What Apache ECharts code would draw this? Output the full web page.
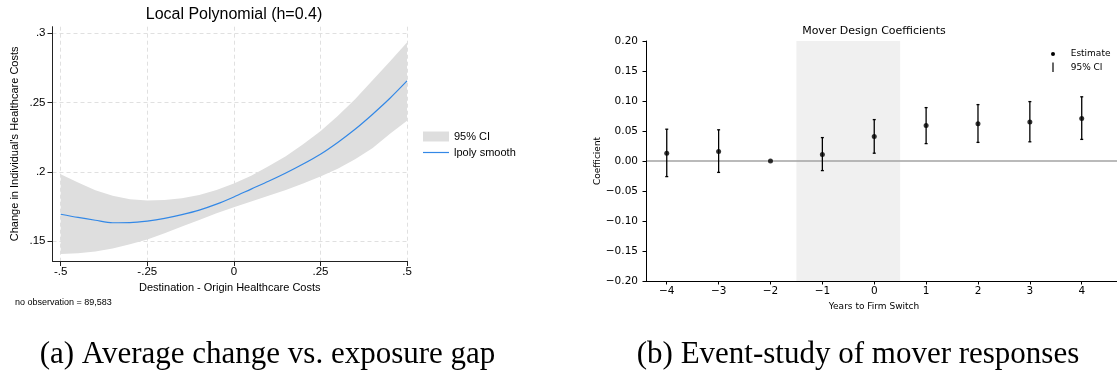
<!DOCTYPE html>
<html>
<head>
<meta charset="utf-8">
<script src="https://cdn.jsdelivr.net/npm/echarts@6/dist/echarts.min.js"></script>
<style>html,body{margin:0;padding:0;background:#fff}#c{width:1117px;height:373px}</style>
</head>
<body>
<div id="c"></div>
<script>
// ---------- Panel (a): local polynomial ----------
const xA = [-0.5,-0.45,-0.4,-0.35,-0.3,-0.25,-0.2,-0.15,-0.1,-0.05,0,0.05,0.1,0.15,0.2,0.25,0.3,0.35,0.4,0.45,0.5];
const lineA = [0.1693,0.1670,0.1650,0.1632,0.1633,0.1644,0.1663,0.1690,0.1723,0.1766,0.1818,0.1875,0.1931,0.1991,0.2056,0.2127,0.2212,0.2307,0.2414,0.2529,0.2656];
const upperA = [0.1982,0.1922,0.1866,0.1826,0.1802,0.1792,0.1797,0.1809,0.1833,0.1869,0.1915,0.1972,0.2040,0.2112,0.2198,0.2293,0.2402,0.2524,0.2660,0.2795,0.2933];
const lowerA = [0.1407,0.1412,0.1424,0.1445,0.1477,0.1510,0.1556,0.1604,0.1652,0.1700,0.1743,0.1785,0.1826,0.1869,0.1915,0.1965,0.2022,0.2090,0.2170,0.2272,0.2368];
const xTicksA = [-0.5,-0.25,0,0.25,0.5];
const xTickLabelsA = ['-.5','-.25','0','.25','.5'];
const yTicksA = [0.15,0.2,0.25,0.3];
const yTickLabelsA = ['.15','.2','.25','.3'];

// ---------- Panel (b): mover event study ----------
const yearsB = [-4,-3,-2,-1,0,1,2,3,4];
const estB = [0.013,0.016,0.0,0.011,0.041,0.059,0.062,0.065,0.071];
const ciLowB = [-0.026,-0.019,null,-0.016,0.013,0.029,0.031,0.032,0.036];
const ciHighB = [0.053,0.052,null,0.039,0.069,0.089,0.094,0.099,0.107];
const xTicksB = [-4,-3,-2,-1,0,1,2,3,4];
const xTickLabelsB = ['\u22124','\u22123','\u22122','\u22121','0','1','2','3','4'];
const yTicksB = [-0.2,-0.15,-0.1,-0.05,0,0.05,0.1,0.15,0.2];
const yTickLabelsB = ['\u22120.20','\u22120.15','\u22120.10','\u22120.05','0.00','0.05','0.10','0.15','0.20'];

function lookup(ticks, labels){
  return function(v){
    for (let i=0;i<ticks.length;i++){ if (Math.abs(ticks[i]-v)<1e-9) return labels[i]; }
    return '';
  };
}

const SANS = "'Liberation Sans', Arial, sans-serif";
const DJV = "'DejaVu Sans', sans-serif";
const SERIF = "'Liberation Serif', 'Times New Roman', serif";
const BLUE = '#3388e6';

const chart = echarts.init(document.getElementById('c'), null, {renderer:'canvas'});

const option = {
  animation: false,
  backgroundColor: '#fff',
  grid: [
    {left: 52.5, top: 26.7, width: 354.5, height: 234.3, containLabel: false},
    {left: 646, top: 41, right: 0, height: 240, containLabel: false}
  ],
  xAxis: [
    {
      gridIndex: 0, type: 'value', min: -0.5237, max: 0.5,
      axisLine: {show: true, onZero: false, lineStyle: {color: '#222', width: 1}},
      axisTick: {show: true, customValues: xTicksA, length: 5, lineStyle: {color: '#222', width: 1}},
      axisLabel: {customValues: xTicksA, formatter: lookup(xTicksA, xTickLabelsA), fontSize: 11.5, fontFamily: SANS, color: '#000', margin: 5},
      splitLine: {show: true, lineStyle: {color: '#e0e0e0', type: [4,3], width: 1}},
      name: 'Destination - Origin Healthcare Costs', nameLocation: 'middle', nameGap: 20,
      nameTextStyle: {fontSize: 11, fontFamily: SANS, color: '#000'}
    },
    {
      gridIndex: 1, type: 'value', min: -4.4, max: 4.68, z: 5,
      axisLine: {show: true, onZero: false, lineStyle: {color: '#000', width: 1}},
      axisTick: {show: true, customValues: xTicksB, length: 3.5, lineStyle: {color: '#000', width: 1}},
      axisLabel: {customValues: xTicksB, formatter: lookup(xTicksB, xTickLabelsB), fontSize: 10.5, fontFamily: DJV, color: '#000', margin: 5},
      splitLine: {show: false},
      name: 'Years to Firm Switch', nameLocation: 'middle', nameGap: 19,
      nameTextStyle: {fontSize: 9, fontFamily: DJV, color: '#000', padding: [0, 15, 0, 0]}
    }
  ],
  yAxis: [
    {
      gridIndex: 0, type: 'value', min: 0.13556, max: 0.30477,
      axisLine: {show: true, onZero: false, lineStyle: {color: '#222', width: 1}},
      axisTick: {show: true, customValues: yTicksA, length: 5, lineStyle: {color: '#222', width: 1}},
      axisLabel: {customValues: yTicksA, formatter: lookup(yTicksA, yTickLabelsA), fontSize: 11.5, fontFamily: SANS, color: '#000', margin: 7},
      splitLine: {show: true, lineStyle: {color: '#e0e0e0', type: [4,3], width: 1}},
      name: "Change in Individual's Healthcare Costs", nameLocation: 'middle', nameGap: 32,
      nameTextStyle: {fontSize: 11, fontFamily: SANS, color: '#000'}
    },
    {
      gridIndex: 1, type: 'value', min: -0.2, max: 0.2, interval: 0.05, z: 5,
      axisLine: {show: true, onZero: false, lineStyle: {color: '#000', width: 1}},
      axisTick: {show: true, length: 3.5, lineStyle: {color: '#000', width: 1}},
      axisLabel: {formatter: lookup(yTicksB, yTickLabelsB), fontSize: 10.5, fontFamily: DJV, color: '#000', margin: 8},
      splitLine: {show: false},
      name: 'Coefficient', nameLocation: 'middle', nameGap: 40,
      nameTextStyle: {fontSize: 9, fontFamily: DJV, color: '#000'}
    }
  ],
  legend: [{
    left: 423, top: 131, orient: 'vertical', padding: 0,
    itemWidth: 26, itemHeight: 10, itemGap: 5, selectedMode: false,
    textStyle: {fontSize: 11, fontFamily: SANS, color: '#000'},
    data: [
      {name: '95% CI', icon: 'rect', itemStyle: {color: '#dedede'}},
      {name: 'lpoly smooth', icon: 'path://M0,0L26,0L26,1.2L0,1.2Z', itemStyle: {color: BLUE}}
    ]
  }],
  series: [
    {
      name: '95% CI', type: 'custom', xAxisIndex: 0, yAxisIndex: 0, z: 1,
      itemStyle: {color: '#dedede'},
      data: xA.map((x, i) => [x, lowerA[i], upperA[i]]),
      encode: {x: 0, y: [1, 2]},
      renderItem: function (params, api) {
        if (params.dataIndex !== 0) return;
        const pts = [];
        for (let i = 0; i < xA.length; i++) pts.push(api.coord([xA[i], upperA[i]]));
        for (let i = xA.length - 1; i >= 0; i--) pts.push(api.coord([xA[i], lowerA[i]]));
        return {type: 'polygon', shape: {points: pts}, style: {fill: '#dedede', stroke: null}};
      }
    },
    {
      name: 'lpoly smooth', type: 'line', xAxisIndex: 0, yAxisIndex: 0, z: 2,
      symbol: 'none', smooth: 0.3,
      lineStyle: {color: BLUE, width: 1.2},
      itemStyle: {color: BLUE},
      data: xA.map((x, i) => [x, lineA[i]])
    },
    {
      name: 'ci_b', type: 'custom', xAxisIndex: 1, yAxisIndex: 1, z: 3,
      data: yearsB.map((x, i) => [x, ciLowB[i], ciHighB[i]]).filter(d => d[1] !== null),
      encode: {x: 0, y: [1, 2]},
      renderItem: function (params, api) {
        const x = api.value(0);
        const top = api.coord([x, api.value(2)]);
        const bot = api.coord([x, api.value(1)]);
        const st = {stroke: '#000', lineWidth: 1.3};
        const c = 1.5;
        return {type: 'group', children: [
          {type: 'line', shape: {x1: top[0], y1: top[1], x2: bot[0], y2: bot[1]}, style: st},
          {type: 'line', shape: {x1: top[0]-c, y1: top[1], x2: top[0]+c, y2: top[1]}, style: st},
          {type: 'line', shape: {x1: bot[0]-c, y1: bot[1], x2: bot[0]+c, y2: bot[1]}, style: st}
        ]};
      }
    },
    {
      name: 'Estimate', type: 'scatter', xAxisIndex: 1, yAxisIndex: 1, z: 4,
      symbol: 'circle', symbolSize: 5,
      itemStyle: {color: '#000'},
      data: yearsB.map((x, i) => [x, estB[i]]),
      markArea: {
        silent: true, z: 1,
        itemStyle: {color: '#f0f0f0'},
        data: [[{xAxis: -1.5}, {xAxis: 0.5}]]
      },
      markLine: {
        silent: true, z: 2, symbol: 'none',
        label: {show: false},
        lineStyle: {color: '#a3a3a3', width: 1.6, type: 'solid'},
        data: [{yAxis: 0}]
      }
    }
  ],
  graphic: [
    {type: 'text', x: 234, y: 15, z: 10, style: {text: 'Local Polynomial (h=0.4)', fontSize: 16, fontFamily: SANS, fill: '#000', align: 'center', verticalAlign: 'middle'}},
    {type: 'text', x: 15, y: 302.7, z: 10, style: {text: 'no observation = 89,583', fontSize: 9, fontFamily: SANS, fill: '#000', align: 'left', verticalAlign: 'middle'}},
    {type: 'text', x: 874, y: 31.5, z: 10, style: {text: 'Mover Design Coefficients', fontSize: 11, fontFamily: DJV, fill: '#000', align: 'center', verticalAlign: 'middle'}},
    {type: 'circle', z: 10, shape: {cx: 1053, cy: 54, r: 2}, style: {fill: '#000'}},
    {type: 'text', x: 1070.7, y: 54, z: 10, style: {text: 'Estimate', fontSize: 9, fontFamily: DJV, fill: '#000', align: 'left', verticalAlign: 'middle'}},
    {type: 'line', z: 10, shape: {x1: 1053, y1: 62.5, x2: 1053, y2: 72}, style: {stroke: '#000', lineWidth: 1.2}},
    {type: 'text', x: 1070.7, y: 67.3, z: 10, style: {text: '95% CI', fontSize: 9, fontFamily: DJV, fill: '#000', align: 'left', verticalAlign: 'middle'}},
    {type: 'text', x: 267.5, y: 355, z: 10, style: {text: '(a) Average change vs. exposure gap', fontSize: 31, fontFamily: SERIF, fill: '#000', align: 'center', verticalAlign: 'middle'}},
    {type: 'text', x: 858, y: 355, z: 10, style: {text: '(b) Event-study of mover responses', fontSize: 31, fontFamily: SERIF, fill: '#000', align: 'center', verticalAlign: 'middle'}}
  ]
};
chart.setOption(option);
</script>
</body>
</html>
